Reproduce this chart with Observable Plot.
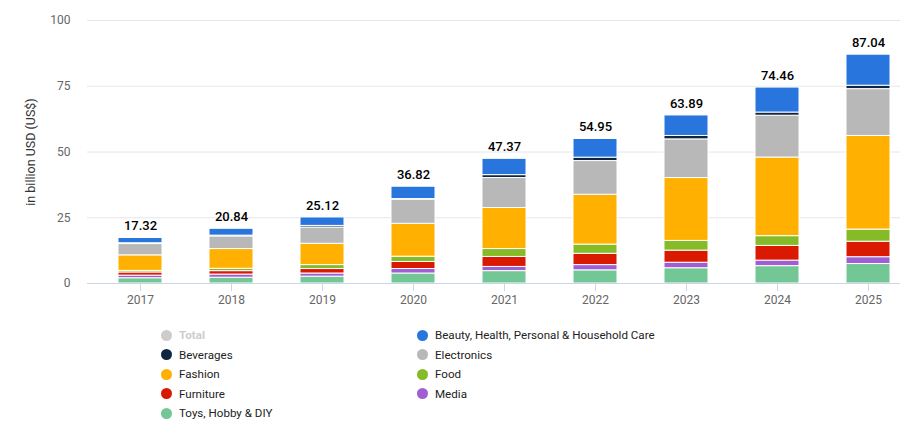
<!DOCTYPE html>
<html>
<head>
<meta charset="utf-8">
<script src="https://cdn.jsdelivr.net/npm/d3@7"></script>
<script src="https://cdn.jsdelivr.net/npm/@observablehq/plot@0.6"></script>
<style>
  body { margin: 0; background: #fff; font-family: Roboto, "Liberation Sans", sans-serif; }
  #wrap { position: relative; width: 900px; height: 448px; }
  #legend { position: absolute; left: 0; top: 0; width: 900px; height: 448px; pointer-events: none; }
  .item { position: absolute; display: flex; align-items: center; font-size: 11.6px; color: #222; white-space: nowrap; }
  .dot { width: 11px; height: 11px; border-radius: 50%; margin-right: 7px; flex: none; }
</style>
</head>
<body>
<div id="wrap">
  <div id="chart"></div>
  <div id="legend"></div>
</div>
<script>
const years = ["2017", "2018", "2019", "2020", "2021", "2022", "2023", "2024", "2025"];
const totals = [17.32, 20.84, 25.12, 36.82, 47.37, 54.95, 63.89, 74.46, 87.04];
const toys = [2.0, 2.2, 2.6, 3.8, 4.7, 5.0, 5.8, 6.6, 7.4];
const media = [1.0, 1.2, 1.2, 1.7, 1.6, 2.0, 2.1, 2.1, 2.6];
const furniture = [1.2, 1.3, 1.7, 2.7, 3.8, 4.3, 4.6, 5.6, 5.9];
const food = [0.6, 0.9, 1.5, 2.0, 3.0, 3.5, 3.7, 3.7, 4.6];
const fashion = [5.9, 7.5, 8.1, 12.5, 15.6, 18.95, 23.9, 29.9, 35.6];
const electronics = [4.3, 4.8, 6.2, 9.1, 11.4, 12.8, 14.7, 15.9, 17.8];
const beverages = [0.3, 0.3, 0.6, 0.3, 1.1, 1.3, 1.3, 1.2, 1.3];
const beauty = [2.0, 2.6, 3.2, 4.7, 6.2, 7.1, 7.8, 9.5, 11.8];

const yTicks = [0, 25, 50, 75, 100];

// stacking order (bottom to top)
const seriesNames = ["Toys, Hobby & DIY", "Media", "Furniture", "Food", "Fashion", "Electronics", "Beverages", "Beauty, Health, Personal & Household Care"];
const seriesValues = [toys, media, furniture, food, fashion, electronics, beverages, beauty];
const seriesColors = ["#72c795", "#a15ed4", "#d91a00", "#84bb26", "#ffb000", "#b8b8b8", "#0e2640", "#2876dd"];

// legend order (row by row, two columns)
const legendNames = ["Total", "Beauty, Health, Personal & Household Care", "Beverages", "Electronics", "Fashion", "Food", "Furniture", "Media", "Toys, Hobby & DIY"];
const hiddenColor = "#cccccc";

const table = [];
seriesNames.forEach((s, i) => {
  years.forEach((y, j) => table.push({ year: y, series: s, value: seriesValues[i][j] }));
});
const totalTable = years.map((y, j) => ({ year: y, total: totals[j] }));

const chart = Plot.plot({
  width: 900,
  height: 310,
  marginLeft: 87,
  marginRight: 0,
  marginTop: 20,
  marginBottom: 27,
  style: { fontFamily: "Roboto, 'Liberation Sans', sans-serif", background: "#fff", overflow: "visible" },
  x: { domain: years, paddingInner: 0.52, paddingOuter: 0.217, align: 0.76, label: null },
  y: { domain: [0, 100], label: null },
  color: { domain: seriesNames, range: seriesColors },
  marks: [
    Plot.gridY(yTicks, { stroke: "#e6e6e6", strokeOpacity: 1 }),
    Plot.axisY(yTicks, { tickSize: 0, tickPadding: 17, fontSize: 12, fill: "#666", label: null }),
    Plot.barY(table, Plot.stackY({ x: "year", y: "value", fill: "series", stroke: "#fff", strokeWidth: 1, order: null })),
    Plot.ruleY([0], { stroke: "#ccd6eb" }),
    Plot.axisX({ tickSize: 8, stroke: "#ccd6eb", tickPadding: 4, fontSize: 12, fill: "#666", label: null }),
    Plot.text(totalTable, { x: "year", y: "total", text: d => d.total.toFixed(2), dy: -12, fontSize: 13, fontWeight: 500, fill: "#000" }),
    Plot.text(["in billion USD (US$)"], { frameAnchor: "left", textAnchor: "middle", dx: -57, rotate: -90, fontSize: 12.5, fill: "#333", text: d => d })
  ]
});
document.getElementById("chart").appendChild(chart);

// legend
const legend = document.getElementById("legend");
const colX = [161, 417];
const rowY = [335, 354.5, 374, 393.5, 413];
legendNames.forEach((name, k) => {
  const col = k % 2, row = Math.floor(k / 2);
  const idx = seriesNames.indexOf(name);
  const hidden = idx < 0;
  const color = hidden ? hiddenColor : seriesColors[idx];
  const el = document.createElement("div");
  el.className = "item";
  el.style.left = colX[col] + "px";
  el.style.top = (rowY[row] - 8) + "px";
  el.style.height = "16px";
  if (hidden) { el.style.color = hiddenColor; el.style.fontWeight = "bold"; }
  el.innerHTML = `<span class="dot" style="background:${color}"></span><span>${name}</span>`;
  legend.appendChild(el);
});
</script>
</body>
</html>
